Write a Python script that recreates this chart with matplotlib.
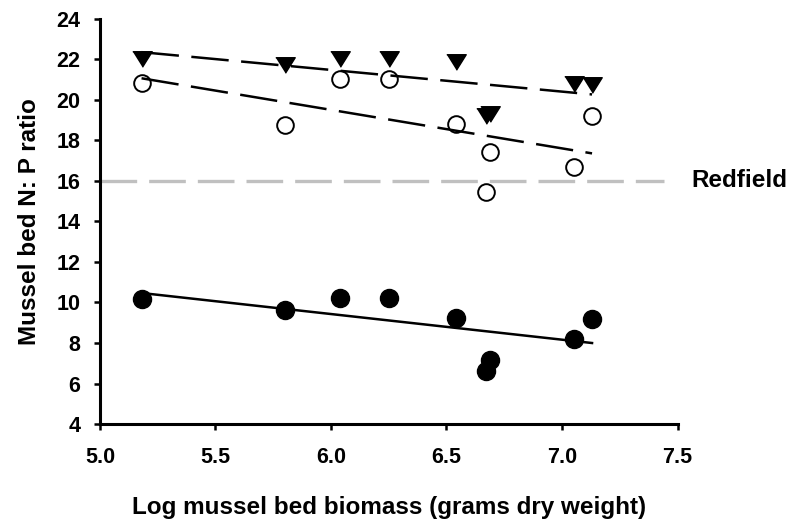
import matplotlib
matplotlib.use('Agg')
import matplotlib.pyplot as plt
import numpy as np

plt.rcParams['font.family'] = ['Liberation Sans', 'DejaVu Sans']
plt.rcParams['font.weight'] = 'bold'

# Log Muschelbett-Biomasse (g Trockengewicht)
biomass = [5.18, 5.80, 6.04, 6.25, 6.54, 6.67, 6.69, 7.05, 7.13]

# N:P Verhältnisse pro Gruppe
np_filled = [10.16, 9.63, 10.22, 10.21, 9.25, 6.63, 7.16, 8.20, 9.17]
np_open = [20.82, 18.77, 21.02, 21.04, 18.81, 15.44, 17.42, 16.71, 19.21]
np_triangle = [22.01, 21.74, 22.04, 22.04, 21.88, 19.20, 19.30, 20.80, 20.76]

redfield = 16
x_ticks = [5.0, 5.5, 6.0, 6.5, 7.0, 7.5]
y_ticks = list(range(4, 25, 2))

fig = plt.figure(figsize=(7.94, 5.2), dpi=100)
ax = fig.add_axes([0.1259, 0.1846, 0.7274, 0.7789])

# Redfield-Linie
ax.plot([5.0, 7.44], [redfield, redfield], color='#c0c0c0', lw=2.4,
        linestyle=(0, (11, 3.6)), zorder=1, solid_capstyle='butt')
ax.text(7.56, redfield, 'Redfield', fontsize=17.5, fontweight='bold',
        va='center', ha='left', clip_on=False)

tri = [(-1, 0.8), (1, 0.8), (0, -0.8)]
x = np.array(biomass)
xs = np.array([x.min(), x.max()])

ax.plot(x, np_filled, 'o', color='black', ms=13, zorder=3)
ax.plot(x, np_open, 'o', mfc='white', mec='black', mew=1.4, ms=12, zorder=3)
ax.plot(x, np_triangle, marker=tri, ls='none', color='black', ms=14, zorder=3)

# Regressionslinien
for vals, style in [(np_filled, '-'), (np_open, (0, (15, 5))), (np_triangle, (0, (15, 5)))]:
    k, d = np.polyfit(x, vals, 1)
    ax.plot(xs, k * xs + d, color='black', lw=1.8, linestyle=style, zorder=4)

ax.set_xlim(5.0, 7.5)
ax.set_ylim(4, 24)
ax.set_xticks(x_ticks)
ax.set_xticklabels([f'{t:.1f}' for t in x_ticks])
ax.set_yticks(y_ticks)

for s in ['top', 'right']:
    ax.spines[s].set_visible(False)
for s in ['left', 'bottom']:
    ax.spines[s].set_linewidth(2.2)
ax.tick_params(axis='both', direction='out', length=4.5, width=1.8, labelsize=15.5)
ax.tick_params(axis='y', pad=9.5)
ax.tick_params(axis='x', pad=12)

ax.set_xlabel('Log mussel bed biomass (grams dry weight)', fontsize=17.5,
              fontweight='bold', labelpad=20)
ax.set_ylabel('Mussel bed N: P ratio', fontsize=17.5, fontweight='bold', labelpad=11)

fig.savefig('out.png', dpi=100)
